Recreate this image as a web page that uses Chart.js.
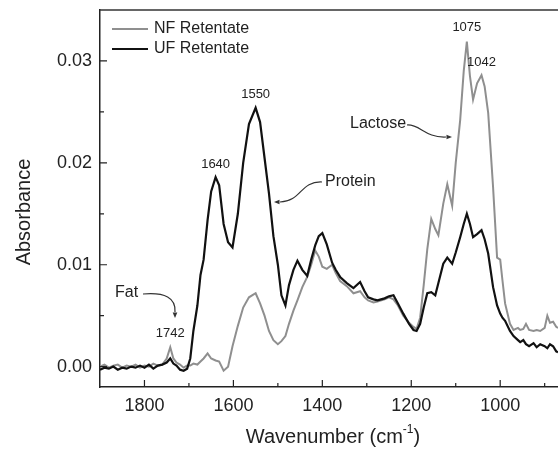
<!DOCTYPE html>
<html>
<head>
<meta charset="utf-8">
<script src="https://cdn.jsdelivr.net/npm/chart.js@4/dist/chart.umd.min.js"></script>
<style>
  html, body { margin: 0; padding: 0; background: #fff; }
  #wrap { width: 558px; height: 453px; }
</style>
</head>
<body>
<div id="wrap"><canvas id="c" width="558" height="453"></canvas></div>
<script>
// Wavenumber (cm-1) of each sample point
const wavenumbers = [
  1900, 1890, 1880, 1870, 1860, 1850, 1840, 1830, 1820, 1810,
  1800, 1790, 1780, 1770, 1760, 1750, 1742, 1735, 1728, 1720,
  1712, 1704, 1697, 1690, 1681, 1674, 1667, 1658, 1650, 1640,
  1632, 1622, 1612, 1602, 1590, 1578, 1565, 1550, 1540, 1530,
  1520, 1510, 1500, 1492, 1483, 1475, 1465, 1456, 1445, 1434,
  1425, 1416, 1408, 1400, 1390, 1378, 1370, 1360, 1345, 1330,
  1315, 1305, 1297, 1285, 1276, 1260, 1250, 1240, 1230, 1218,
  1205, 1195, 1188, 1180, 1172, 1164, 1155, 1146, 1139, 1128,
  1119, 1108, 1100, 1090, 1082, 1075, 1068, 1061, 1052, 1042,
  1035, 1027, 1016, 1007, 1000, 995, 989, 978, 970, 960,
  955, 948, 942, 935, 925, 918, 910, 900, 894, 888,
  881, 874, 870
];

// UF Retentate (black)
const ufRetentate = [
  -0.0003, -0.0001, -0.0002, 0.0000, -0.0003, -0.0001, -0.0002, 0.0000, -0.0001, 0.0001,
  -0.0001, 0.0002, -0.0002, 0.0001, 0.0002, 0.0004, 0.0008, 0.0003, 0.0001, -0.0003,
  -0.0004, -0.0002, 0.0008, 0.0035, 0.0060, 0.0090, 0.0105, 0.0144, 0.0172, 0.0186,
  0.0178, 0.0140, 0.0122, 0.0117, 0.0150, 0.0200, 0.0238, 0.0254, 0.0240, 0.0205,
  0.0170, 0.0128, 0.0100, 0.0070, 0.0060, 0.0080, 0.0095, 0.0104, 0.0095, 0.0089,
  0.0105, 0.0119, 0.0128, 0.0131, 0.0120, 0.0102, 0.0095, 0.0088, 0.0082, 0.0077,
  0.0083, 0.0074, 0.0068, 0.0066, 0.0065, 0.0067, 0.0069, 0.0070, 0.0062, 0.0052,
  0.0042, 0.0036, 0.0035, 0.0042, 0.0058, 0.0072, 0.0073, 0.0070, 0.0082, 0.0101,
  0.0107, 0.0101, 0.0112, 0.0127, 0.0140, 0.0150, 0.0140, 0.0127, 0.0130, 0.0134,
  0.0125, 0.0111, 0.0078, 0.0060, 0.0052, 0.0048, 0.0045, 0.0035, 0.0030, 0.0026,
  0.0024, 0.0026, 0.0022, 0.0020, 0.0023, 0.0019, 0.0022, 0.0020, 0.0018, 0.0022,
  0.0020, 0.0015, 0.0014
];

// NF Retentate (grey)
const nfRetentate = [
  0.0000, 0.0002, -0.0001, 0.0001, 0.0002, -0.0001, 0.0001, 0.0000, 0.0002, -0.0001,
  0.0001, 0.0000, 0.0003, 0.0001, 0.0002, 0.0008, 0.0019, 0.0008, 0.0004, 0.0002,
  -0.0001, 0.0001, 0.0001, 0.0003, 0.0002, 0.0005, 0.0008, 0.0013, 0.0008, 0.0006,
  0.0005, -0.0004, 0.0000, 0.0020, 0.0040, 0.0058, 0.0068, 0.0072, 0.0062, 0.0050,
  0.0035, 0.0026, 0.0022, 0.0025, 0.0030, 0.0042, 0.0055, 0.0065, 0.0078, 0.0088,
  0.0100, 0.0114, 0.0108, 0.0098, 0.0096, 0.0100, 0.0092, 0.0084, 0.0079, 0.0072,
  0.0074, 0.0068, 0.0065, 0.0063, 0.0064, 0.0066, 0.0068, 0.0066, 0.0060, 0.0050,
  0.0043, 0.0039, 0.0037, 0.0048, 0.0080, 0.0115, 0.0145, 0.0135, 0.0129, 0.0160,
  0.0179, 0.0158, 0.0200, 0.0242, 0.0290, 0.0319, 0.0285, 0.0262, 0.0278, 0.0286,
  0.0275, 0.0249, 0.0176, 0.0107, 0.0105, 0.0085, 0.0062, 0.0042, 0.0036, 0.0038,
  0.0036, 0.0037, 0.0042, 0.0036, 0.0035, 0.0036, 0.0035, 0.0038, 0.0050, 0.0043,
  0.0044, 0.0039, 0.0038
];

const xTicks = [1800, 1600, 1400, 1200, 1000];
const xMinorTicks = [1700, 1500, 1300, 1100, 900];
const yTicks = [0.00, 0.01, 0.02, 0.03];
const yMinorTicks = [0.005, 0.015, 0.025];

const seriesNames = ['NF Retentate', 'UF Retentate'];
const peakLabels = [
  { text: '1742', wn: 1742, y: 0.0033 },
  { text: '1640', wn: 1640, y: 0.0198 },
  { text: '1550', wn: 1550, y: 0.0267 },
  { text: '1075', wn: 1075, y: 0.0333 },
  { text: '1042', wn: 1042, y: 0.0299 }
];

const NF_COLOR = '#8f8f8f';
const UF_COLOR = '#111111';
const FONT = 'Arial, "Liberation Sans", sans-serif';

function toPoints(ys) {
  return wavenumbers.map((w, i) => ({ x: w, y: ys[i] }));
}

// draws the frame, inside ticks, titles, legend and the callouts
const decorPlugin = {
  id: 'decor',
  afterDraw(chart) {
    const ctx = chart.ctx;
    const a = chart.chartArea;
    const xs = chart.scales.x;
    const ys = chart.scales.y;
    ctx.save();

    // top frame line
    ctx.strokeStyle = '#333';
    ctx.lineWidth = 1.5;
    ctx.beginPath();
    ctx.moveTo(a.left, a.top);
    ctx.lineTo(a.right, a.top);
    ctx.stroke();

    // inside ticks
    ctx.strokeStyle = '#222';
    ctx.lineWidth = 1.2;
    ctx.beginPath();
    xTicks.forEach(t => { const p = xs.getPixelForValue(t); ctx.moveTo(p, a.bottom); ctx.lineTo(p, a.bottom - 7); });
    xMinorTicks.forEach(t => { const p = xs.getPixelForValue(t); if (p < a.right) { ctx.moveTo(p, a.bottom); ctx.lineTo(p, a.bottom - 4); } });
    yTicks.forEach(t => { const p = ys.getPixelForValue(t); ctx.moveTo(a.left, p); ctx.lineTo(a.left + 7, p); });
    yMinorTicks.forEach(t => { const p = ys.getPixelForValue(t); ctx.moveTo(a.left, p); ctx.lineTo(a.left + 4, p); });
    ctx.stroke();

    // axis titles
    ctx.fillStyle = '#222';
    ctx.font = '20px ' + FONT;
    ctx.textBaseline = 'middle';
    ctx.textAlign = 'left';
    const main = 'Wavenumber (cm';
    const sup = '-1';
    const w1 = ctx.measureText(main).width;
    ctx.font = '12px ' + FONT;
    const w2 = ctx.measureText(sup).width;
    ctx.font = '20px ' + FONT;
    const w3 = ctx.measureText(')').width;
    let tx = 333 - (w1 + w2 + w3) / 2;
    const ty = 437;
    ctx.fillText(main, tx, ty);
    ctx.font = '12px ' + FONT;
    ctx.fillText(sup, tx + w1, ty - 7);
    ctx.font = '20px ' + FONT;
    ctx.fillText(')', tx + w1 + w2, ty);

    ctx.save();
    ctx.translate(24, 212);
    ctx.rotate(-Math.PI / 2);
    ctx.textAlign = 'center';
    ctx.fillText('Absorbance', 0, 0);
    ctx.restore();

    // legend
    ctx.font = '16px ' + FONT;
    ctx.textAlign = 'left';
    [[NF_COLOR, 29], [UF_COLOR, 49]].forEach(([col, y], i) => {
      ctx.strokeStyle = col;
      ctx.lineWidth = 2;
      ctx.beginPath();
      ctx.moveTo(112, y);
      ctx.lineTo(148, y);
      ctx.stroke();
      ctx.fillStyle = '#222';
      ctx.fillText(seriesNames[i], 154, y);
    });

    // peak labels
    ctx.font = '13px ' + FONT;
    ctx.textAlign = 'center';
    peakLabels.forEach(p => {
      ctx.fillText(p.text, xs.getPixelForValue(p.wn), ys.getPixelForValue(p.y));
    });

    // band names
    ctx.font = '16px ' + FONT;
    ctx.textAlign = 'left';
    ctx.fillText('Fat', 115, 293);
    ctx.fillText('Protein', 325, 182);
    ctx.fillText('Lactose', 350, 124);

    // curved arrows
    ctx.strokeStyle = '#333';
    ctx.fillStyle = '#333';
    ctx.lineWidth = 1.2;
    function head(x, y, ang) {
      ctx.beginPath();
      ctx.moveTo(x, y);
      ctx.lineTo(x - 6 * Math.cos(ang - 0.4), y - 6 * Math.sin(ang - 0.4));
      ctx.lineTo(x - 6 * Math.cos(ang + 0.4), y - 6 * Math.sin(ang + 0.4));
      ctx.closePath();
      ctx.fill();
    }
    // Fat
    ctx.beginPath();
    ctx.moveTo(143, 294);
    ctx.bezierCurveTo(165, 292, 176, 298, 175, 312);
    ctx.stroke();
    head(175, 318, Math.PI / 2);
    // Protein
    ctx.beginPath();
    ctx.moveTo(322, 182);
    ctx.bezierCurveTo(300, 181, 302, 201, 280, 202);
    ctx.stroke();
    head(274, 202, Math.PI);
    // Lactose
    ctx.beginPath();
    ctx.moveTo(407, 125);
    ctx.bezierCurveTo(420, 124, 425, 138, 446, 137);
    ctx.stroke();
    head(452, 137, 0);

    ctx.restore();
  }
};

new Chart(document.getElementById('c'), {
  type: 'line',
  data: {
    datasets: [
      { label: 'UF Retentate', data: toPoints(ufRetentate), borderColor: UF_COLOR, borderWidth: 2.2, pointRadius: 0, tension: 0 },
      { label: 'NF Retentate', data: toPoints(nfRetentate), borderColor: NF_COLOR, borderWidth: 2, pointRadius: 0, tension: 0 }
    ]
  },
  options: {
    responsive: false,
    animation: false,
    layout: { padding: { left: 0, top: 10, right: 0, bottom: 0 } },
    plugins: { legend: { display: false }, tooltip: { enabled: false } },
    scales: {
      x: {
        type: 'linear',
        reverse: true,
        min: 870,
        max: 1900,
        afterBuildTicks: s => { s.ticks = xTicks.map(v => ({ value: v })); },
        afterFit: s => { s.height = 66; s.paddingLeft = 0; s.paddingRight = 0; },
        grid: { display: false, drawTicks: false },
        border: { display: true, color: '#222', width: 1.5 },
        ticks: { color: '#222', font: { family: FONT, size: 18 }, padding: 8, maxRotation: 0, callback: v => String(v) }
      },
      y: {
        min: -0.002,
        max: 0.035,
        afterBuildTicks: s => { s.ticks = yTicks.map(v => ({ value: v })); },
        afterFit: s => { s.width = 100; s.paddingTop = 0; s.paddingBottom = 0; },
        grid: { display: false, drawTicks: false },
        border: { display: true, color: '#222', width: 1.5 },
        ticks: { color: '#222', font: { family: FONT, size: 18 }, padding: 8, callback: v => v.toFixed(2) }
      }
    }
  },
  plugins: [decorPlugin]
});
</script>
</body>
</html>
